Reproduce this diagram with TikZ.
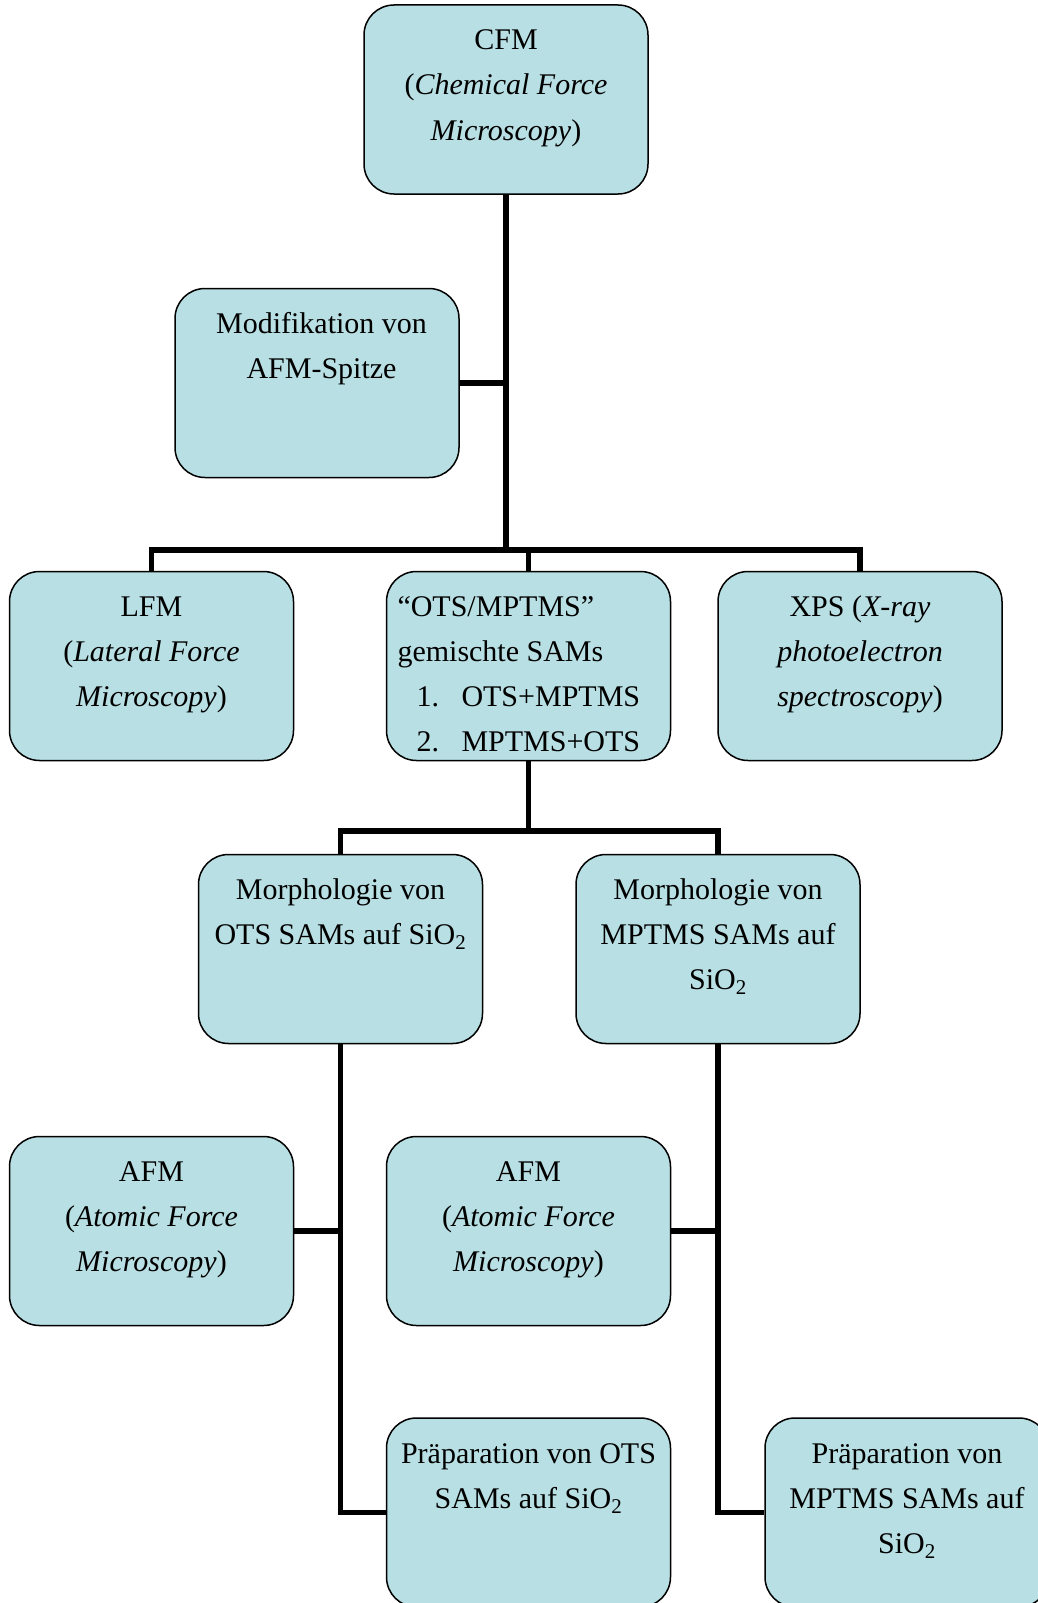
\documentclass[tikz,border=0pt]{standalone}
\usepackage{fontspec}
\setmainfont{Liberation Serif}
\usepackage{xcolor}
\usepackage{tikz}
\usetikzlibrary{
  positioning,
  calc
}
\definecolor{cfBox}{HTML}{B8DFE3}
\definecolor{cfLine}{HTML}{000000}
\newcommand{\boxtext}[2][\centering]{%
  \parbox[t][162pt][t]{262pt}{#1\strut #2}}
\newcommand{\listitem}[2]{\hspace*{19pt}\makebox[45pt][l]{#1}#2}
\tikzset{
  cfnode/.style={
    draw=cfLine, fill=cfBox, rounded corners=30pt, line width=1.5pt,
    inner xsep=11pt, inner ysep=13.5pt,
    font=\fontsize{30pt}{45pt}\selectfont
  },
  tree/.style={line width=5.5pt, cfLine}
}
\begin{document}
\begin{tikzpicture}[x=1pt, y=-1pt]
  \useasboundingbox (0,0) rectangle (1038,1603);
  \node[cfnode] (cfm) at (506,99.5) {\boxtext{CFM\\(\textit{Chemical Force}\\\textit{Microscopy})}};
  \node[cfnode] (mod) at (317,383) {\boxtext{\hspace*{9pt}Modifikation von\\\hspace*{9pt}AFM-Spitze}};
  \node[cfnode] (lfm) at (151.5,666) {\boxtext{LFM\\(\textit{Lateral Force}\\\textit{Microscopy})}};
  \node[cfnode] (ots) at (528.5,666) {\boxtext[\raggedright]{“OTS/MPTMS”\\gemischte SAMs\\\listitem{1.}{OTS+MPTMS}\\\listitem{2.}{MPTMS+OTS}}};
  \node[cfnode] (xps) at (860,666) {\boxtext{XPS (\textit{X-ray}\\\textit{photoelectron}\\\textit{spectroscopy})}};
  \node[cfnode] (morots) at (340.5,949) {\boxtext{Morphologie von\\OTS SAMs auf SiO\textsubscript{2}}};
  \node[cfnode] (mormp) at (718,949) {\boxtext{Morphologie von\\MPTMS SAMs auf\\SiO\textsubscript{2}}};
  \node[cfnode] (afml) at (151.5,1231) {\boxtext{AFM\\(\textit{Atomic Force}\\\textit{Microscopy})}};
  \node[cfnode] (afmm) at (528.5,1231) {\boxtext{AFM\\(\textit{Atomic Force}\\\textit{Microscopy})}};
  \node[cfnode] (prepots) at (528.5,1512.5) {\boxtext{Präparation von OTS\\SAMs auf SiO\textsubscript{2}}};
  \node[cfnode] (prepmp) at (907,1512.5) {\boxtext{Präparation von\\MPTMS SAMs auf\\SiO\textsubscript{2}}};

  \coordinate (bar1) at (506,550);
  \coordinate (bar2) at (528.5,831);
  \draw[tree] (cfm.south) -- (bar1);
  \draw[tree] (mod.east) -- (mod.east -| cfm.south);
  \draw[tree] (lfm.north) |- (bar1) -| (xps.north);
  \draw[tree] (ots.north) -- (ots.north |- bar1);
  \draw[tree] (ots.south) -- (bar2);
  \draw[tree] (morots.north) |- (bar2) -| (mormp.north);
  \draw[tree] (morots.south) |- (prepots.west);
  \draw[tree] (afml.east) -- (afml.east -| morots.south);
  \draw[tree] (mormp.south) |- (prepmp.west);
  \draw[tree] (afmm.east) -- (afmm.east -| mormp.south);
\end{tikzpicture}
\end{document}
